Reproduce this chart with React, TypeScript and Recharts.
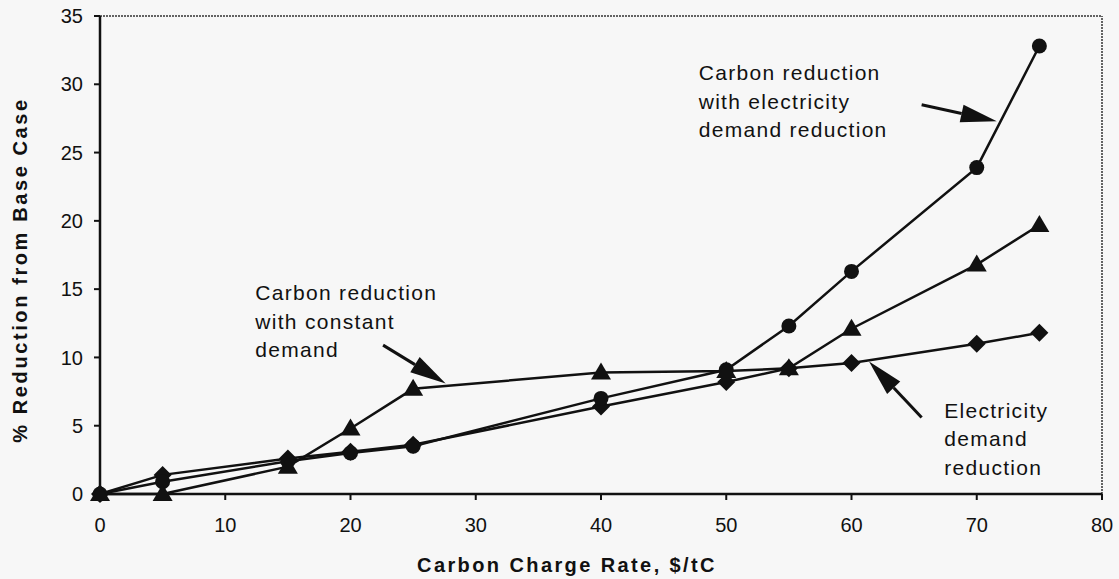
import {
  LineChart,
  Line,
  XAxis,
  YAxis,
  ReferenceLine,
  ReferenceDot,
} from 'recharts'

const chargeRates = [0, 5, 15, 20, 25, 40, 50, 55, 60, 70, 75]
const withDemandReduction = [0, 0.9, 2.4, 3.0, 3.5, 7.0, 9.1, 12.3, 16.3, 23.9, 32.8]
const constantDemand = [0, 0, 2.0, 4.8, 7.7, 8.9, 9.0, 9.2, 12.1, 16.8, 19.7]
const demandReduction = [0, 1.4, 2.6, 3.1, 3.6, 6.4, 8.2, 9.2, 9.6, 11.0, 11.8]

const xTicks = [0, 10, 20, 30, 40, 50, 60, 70, 80]
const yTicks = [0, 5, 10, 15, 20, 25, 30, 35]

const data = chargeRates.map((rate, i) => ({
  rate,
  circle: withDemandReduction[i],
  triangle: constantDemand[i],
  diamond: demandReduction[i],
}))

const FONT = '"Liberation Sans", Arial, Helvetica, sans-serif'
const INK = '#111'

const CircleDot = ({ cx, cy }: any) => <circle cx={cx} cy={cy} r={7.5} fill={INK} />

const TriangleDot = ({ cx, cy }: any) => (
  <polygon points={`${cx},${cy - 10} ${cx + 10},${cy + 7} ${cx - 10},${cy + 7}`} fill={INK} />
)

const DiamondDot = ({ cx, cy }: any) => (
  <polygon points={`${cx},${cy - 9} ${cx + 9},${cy} ${cx},${cy + 9} ${cx - 9},${cy}`} fill={INK} />
)

const Arrow = ({ x1, y1, x2, y2 }: any) => {
  const dx = x2 - x1
  const dy = y2 - y1
  const len = Math.hypot(dx, dy) || 1
  const ux = dx / len
  const uy = dy / len
  const head = 36
  const half = 9
  const bx = x2 - ux * head
  const by = y2 - uy * head
  return (
    <g>
      <line x1={x1} y1={y1} x2={bx} y2={by} stroke={INK} strokeWidth={3} />
      <polygon
        points={`${x2},${y2} ${bx - uy * half},${by + ux * half} ${bx + uy * half},${by - ux * half}`}
        fill={INK}
      />
    </g>
  )
}

const noteLines = (lines: string[]) => ({ cx, cy }: any) => (
  <text x={cx} y={cy} fontFamily={FONT} fontSize={21} letterSpacing={1.3} fill={INK}>
    {lines.map((l, i) => (
      <tspan key={i} x={cx} dy={i === 0 ? 0 : 28.5}>
        {l}
      </tspan>
    ))}
  </text>
)

const YTitle = ({ viewBox }: any) => {
  const x = 20
  const y = viewBox.y + viewBox.height / 2 + 15
  return (
    <text
      x={x}
      y={y}
      transform={`rotate(-90 ${x} ${y})`}
      textAnchor="middle"
      dominantBaseline="central"
      fontFamily={FONT}
      fontWeight="bold"
      fontSize={20}
      letterSpacing={2.6}
      fill={INK}
    >
      % Reduction from Base Case
    </text>
  )
}

const XTitle = ({ viewBox }: any) => (
  <text
    x={viewBox.x + viewBox.width / 2 - 34}
    y={572}
    textAnchor="middle"
    fontFamily={FONT}
    fontWeight="bold"
    fontSize={20}
    letterSpacing={2.4}
    fill={INK}
  >
    Carbon Charge Rate, $/tC
  </text>
)

export default function App() {
  return (
    <div style={{ position: 'absolute', left: 0, top: 0, background: '#f7f7f7' }}>
      <LineChart
        width={1119}
        height={579}
        data={data}
        margin={{ top: 16, right: 17, left: 0, bottom: 35 }}
      >
        <XAxis
          dataKey="rate"
          type="number"
          domain={[0, 80]}
          ticks={xTicks}
          height={50}
          tick={{ fontSize: 20, fill: INK, fontFamily: FONT }}
          tickSize={6}
          tickMargin={18}
          axisLine={{ stroke: INK, strokeWidth: 2.5 }}
          tickLine={{ stroke: INK, strokeWidth: 2 }}
          label={<XTitle />}
        />
        <YAxis
          type="number"
          domain={[0, 35]}
          ticks={yTicks}
          width={100}
          tick={{ fontSize: 20, fill: INK, fontFamily: FONT }}
          tickSize={6}
          tickMargin={11}
          axisLine={{ stroke: INK, strokeWidth: 2.5 }}
          tickLine={{ stroke: INK, strokeWidth: 2 }}
          label={<YTitle />}
        />
        <ReferenceLine y={35} stroke="#333" strokeWidth={1.5} strokeDasharray="2 1" />
        <ReferenceLine x={80} stroke="#333" strokeWidth={1.5} strokeDasharray="2 1" />

        <Line
          dataKey="diamond"
          stroke={INK}
          strokeWidth={2.5}
          dot={<DiamondDot />}
          activeDot={false}
          isAnimationActive={false}
        />
        <Line
          dataKey="circle"
          stroke={INK}
          strokeWidth={2.5}
          dot={<CircleDot />}
          activeDot={false}
          isAnimationActive={false}
        />
        <Line
          dataKey="triangle"
          stroke={INK}
          strokeWidth={2.5}
          dot={<TriangleDot />}
          activeDot={false}
          isAnimationActive={false}
        />

        <ReferenceDot
          x={47.8}
          y={30.3}
          r={0}
          shape={noteLines(['Carbon reduction', 'with electricity', 'demand reduction'])}
        />
        <ReferenceDot
          x={12.4}
          y={14.2}
          r={0}
          shape={noteLines(['Carbon reduction', 'with constant', 'demand'])}
        />
        <ReferenceDot
          x={67.4}
          y={5.6}
          r={0}
          shape={noteLines(['Electricity', 'demand', 'reduction'])}
        />

        <ReferenceLine segment={[{ x: 65.6, y: 28.5 }, { x: 71.6, y: 27.3 }]} shape={Arrow} />
        <ReferenceLine segment={[{ x: 22.6, y: 10.9 }, { x: 27.6, y: 8.1 }]} shape={Arrow} />
        <ReferenceLine segment={[{ x: 65.6, y: 5.6 }, { x: 61.4, y: 9.7 }]} shape={Arrow} />
      </LineChart>
    </div>
  )
}
